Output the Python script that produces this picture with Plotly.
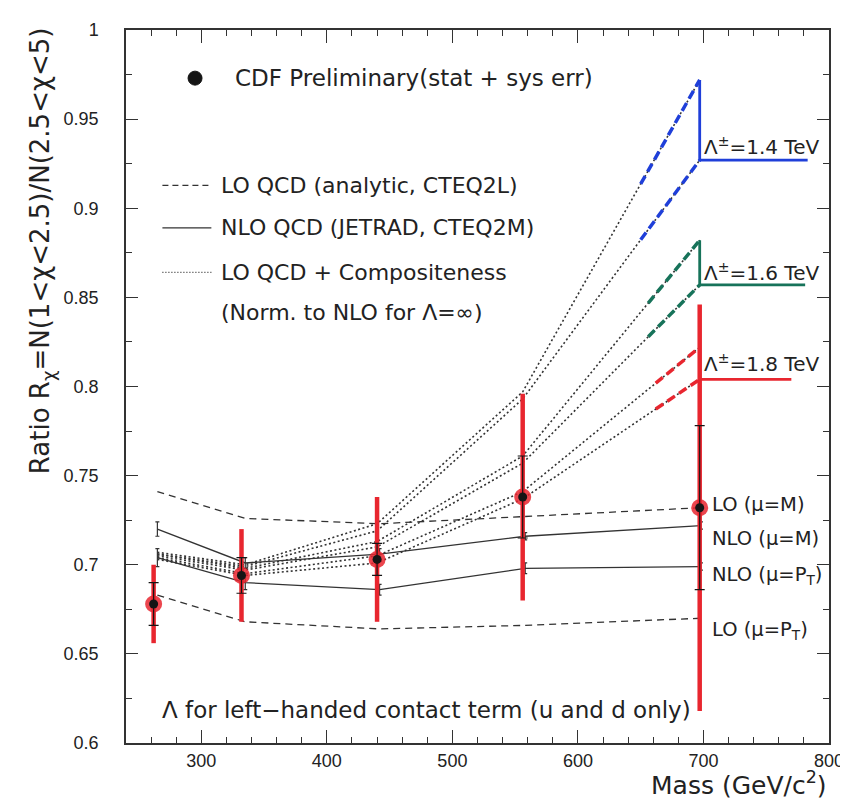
import numpy as np
import plotly.graph_objects as go

# ---------------- data ----------------
mass = [262, 332, 440, 556, 697]
ratio = [0.678, 0.694, 0.703, 0.738, 0.732]
tot_err = [0.022, 0.026, 0.035, 0.058, 0.114]
stat_err = [0.012, 0.010, 0.009, 0.023, 0.046]

theory_x = [265, 335, 442, 558, 698]
lo_m = [0.741, 0.726, 0.723, 0.727, 0.732]
lo_pt = [0.683, 0.668, 0.664, 0.666, 0.670]
nlo_m = [0.720, 0.701, 0.706, 0.716, 0.722]
nlo_m_err = [0.004, 0.003, 0.003, 0.002, 0.002]
nlo_pt = [0.704, 0.690, 0.686, 0.698, 0.699]
nlo_pt_err = [0.005, 0.004, 0.003, 0.003, 0.002]

comp_x = [265, 335, 440, 556, 697]
comp_14_plus = [0.707, 0.700, 0.723, 0.797, 0.972]
comp_14_minus = [0.706, 0.699, 0.719, 0.793, 0.927]
comp_16_plus = [0.706, 0.698, 0.713, 0.761, 0.882]
comp_16_minus = [0.705, 0.697, 0.710, 0.757, 0.857]
comp_18_plus = [0.704, 0.695, 0.705, 0.741, 0.822]
comp_18_minus = [0.703, 0.694, 0.701, 0.737, 0.804]

lam_labels = ["1.4", "1.6", "1.8"]
lam_colors = ["#1f3fd9", "#17735a", "#e8262f"]
overlay_start = [650, 656, 662]     # hand-drawn dashed overlays start (mass)
overlay_end = [783, 781, 770]       # hand-drawn horizontal lines end (mass)

x_ticks = [300, 400, 500, 600, 700, 800]

TXT = "DejaVu Sans"
TICKF = "Liberation Sans"
INK = "#222222"

fig = go.Figure()

# compositeness dotted curves
comp_pairs = [(comp_14_plus, comp_14_minus), (comp_16_plus, comp_16_minus),
              (comp_18_plus, comp_18_minus)]
for up, lo in comp_pairs:
    for c in (up, lo):
        fig.add_trace(go.Scatter(x=comp_x, y=c, mode="lines",
                                 line=dict(color="#333333", width=1.6, dash="2px,2.5px"),
                                 showlegend=False, hoverinfo="skip"))

# hand-drawn coloured overlays
for (up, lo), col, xs, xe in zip(comp_pairs, lam_colors, overlay_start, overlay_end):
    for c in (up, lo):
        seg_x = [xs, comp_x[-1]]
        seg_y = list(np.interp(seg_x, comp_x, c))
        fig.add_trace(go.Scatter(x=seg_x, y=seg_y, mode="lines",
                                 line=dict(color=col, width=3.5, dash="9px,5px"),
                                 showlegend=False, hoverinfo="skip"))
    fig.add_trace(go.Scatter(x=[comp_x[-1], comp_x[-1], xe], y=[up[-1], lo[-1], lo[-1]],
                             mode="lines", line=dict(color=col, width=2.8),
                             showlegend=False, hoverinfo="skip"))

# LO dashed
for c in (lo_m, lo_pt):
    fig.add_trace(go.Scatter(x=theory_x, y=c, mode="lines",
                             line=dict(color="#333333", width=1.3, dash="7px,5px"),
                             showlegend=False, hoverinfo="skip"))
# NLO solid with small error bars
for c, e in ((nlo_m, nlo_m_err), (nlo_pt, nlo_pt_err)):
    fig.add_trace(go.Scatter(x=theory_x, y=c, mode="lines",
                             line=dict(color="#333333", width=1.3),
                             error_y=dict(type="data", array=e, visible=True,
                                          color="#333333", thickness=1.2, width=2),
                             showlegend=False, hoverinfo="skip"))

# data: red total error bars
fig.add_trace(go.Scatter(x=mass, y=ratio, mode="markers",
                         marker=dict(size=1, color="rgba(0,0,0,0)"),
                         error_y=dict(type="data", array=tot_err, visible=True,
                                      color="#e8262f", thickness=4.5, width=0),
                         showlegend=False, hoverinfo="skip"))
fig.add_trace(go.Scatter(x=mass, y=ratio, mode="markers",
                         marker=dict(size=17, color="rgba(232,38,47,0.85)"),
                         showlegend=False, hoverinfo="skip"))
fig.add_trace(go.Scatter(x=mass, y=ratio, mode="markers",
                         marker=dict(size=9, color="#151515"),
                         error_y=dict(type="data", array=stat_err, visible=True,
                                      color="#151515", thickness=1.2, width=5),
                         showlegend=False, hoverinfo="skip"))

# ---------------- legend (drawn as text + keys) ----------------
leg_x0, leg_x1, leg_tx = 269, 308, 314
leg_rows = [("LO QCD (analytic, CTEQ2L)", 0.9128, "6px,4px"),
            ("NLO QCD (JETRAD, CTEQ2M)", 0.889, "solid"),
            ("LO QCD + Compositeness", 0.864, "1px,2px")]
shapes = []
annotations = []
for txt, yy, dsh in leg_rows:
    shapes.append(dict(type="line", xref="x", yref="y", x0=leg_x0, x1=leg_x1, y0=yy, y1=yy,
                       line=dict(color="#333333", width=1.3, dash=dsh)))
    annotations.append(dict(text=txt, x=leg_tx, y=yy, xref="x", yref="y", xanchor="left",
                            yanchor="middle", showarrow=False,
                            font=dict(family=TXT, size=22, color=INK)))
annotations.append(dict(text="(Norm. to NLO for Λ=∞)", x=leg_tx, y=0.8415, xref="x", yref="y",
                        xanchor="left", yanchor="middle", showarrow=False,
                        font=dict(family=TXT, size=22, color=INK)))
shapes.append(dict(type="circle", xref="x", yref="y", xsizemode="pixel", ysizemode="pixel",
                   xanchor=295, yanchor=0.973, x0=-7, x1=7, y0=-7, y1=7,
                   fillcolor="#151515", line=dict(color="#151515", width=1)))
annotations.append(dict(text="CDF Preliminary(stat + sys err)", x=325, y=0.973, xref="x", yref="y",
                        xanchor="left", yanchor="middle", showarrow=False,
                        font=dict(family=TXT, size=23, color=INK)))

# Lambda labels
lam_y = [0.935, 0.864, 0.813]
for lab, yy in zip(lam_labels, lam_y):
    annotations.append(dict(text="Λ<sup>±</sup>=" + lab + " TeV", x=699, y=yy, xref="x", yref="y",
                            xanchor="left", yanchor="middle", showarrow=False,
                            font=dict(family=TXT, size=20, color=INK)))
# curve labels
curve_labels = [("LO (μ=M)", 0.734), ("NLO (μ=M)", 0.7146),
                ("NLO (μ=P<sub>T</sub>)", 0.694), ("LO (μ=P<sub>T</sub>)", 0.663)]
for lab, yy in curve_labels:
    annotations.append(dict(text=lab, x=705, y=yy, xref="x", yref="y", xanchor="left",
                            yanchor="middle", showarrow=False,
                            font=dict(family=TXT, size=19.5, color=INK)))

annotations.append(dict(text="Λ for left−handed contact term (u and d only)", x=267, y=0.6185,
                        xref="x", yref="y", xanchor="left", yanchor="middle", showarrow=False,
                        font=dict(family=TXT, size=23, color=INK)))

# axis titles
annotations.append(dict(text="Mass (GeV/c<sup>2</sup>)", x=1.0, y=-0.057, xref="paper",
                        yref="paper", xanchor="right", yanchor="middle", showarrow=False,
                        font=dict(family=TXT, size=25, color=INK)))
annotations.append(dict(text="Ratio R<sub>χ</sub>=N(1&lt;χ&lt;2.5)/N(2.5&lt;χ&lt;5)",
                        x=-0.12, y=1.007, xref="paper", yref="paper", xanchor="center",
                        yanchor="top", textangle=-90, showarrow=False,
                        font=dict(family=TXT, size=26, color=INK)))

fig.update_layout(
    width=848, height=806,
    margin=dict(l=118, r=20, t=13, b=71),
    paper_bgcolor="white", plot_bgcolor="white",
    shapes=shapes, annotations=annotations,
    showlegend=False,
)
fig.update_xaxes(range=[240, 800], tickvals=x_ticks, ticks="inside", ticklen=13,
                 tickwidth=1.2, tickcolor="#333333", showline=True, linecolor="#333333",
                 linewidth=1.5, mirror="ticks", showgrid=False, zeroline=False,
                 minor=dict(ticks="inside", ticklen=6, dtick=20, tick0=0,
                            tickcolor="#333333", tickwidth=1.2, showgrid=False),
                 tickfont=dict(family=TICKF, size=18, color=INK), ticklabelstandoff=1)
fig.update_yaxes(range=[0.6, 1.0], dtick=0.05, tick0=0.6, ticks="inside", ticklen=12,
                 tickwidth=1.2, tickcolor="#333333", showline=True, linecolor="#333333",
                 linewidth=1.5, mirror="ticks", showgrid=False, zeroline=False,
                 minor=dict(ticks="inside", ticklen=6, dtick=0.025, tick0=0.6,
                            tickcolor="#333333", tickwidth=1.2, showgrid=False),
                 tickfont=dict(family=TICKF, size=18, color=INK), ticklabelstandoff=22)

fig.write_html("out.html")
